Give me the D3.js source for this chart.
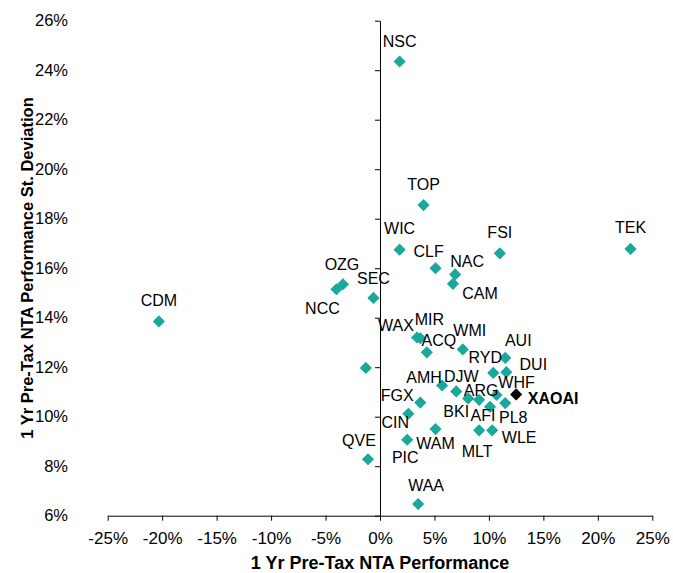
<html>
<head>
<title>NTA Performance vs St. Deviation</title>
<script type="text/javascript" src="https://cdn.jsdelivr.net/npm/d3@7"></script>
<style>
  * { margin: 0; padding: 0; }
  body { background: #fff; }
  text { font-family: "Liberation Sans", Arial, sans-serif; }
</style>
</head>
<body>
<div id="chart"></div>
<script type="text/javascript">
// 1 yr pre-tax NTA performance (%) and st. deviation (%)
var codes = ['NSC', 'TOP', 'WIC', 'CLF', 'NAC', 'CAM', 'FSI', 'OZG', 'NCC', 'SEC', 'CDM', 'TEK',
             'WAX', 'MIR', 'ACQ', 'WMI', '', 'AUI', 'RYD', 'DUI', 'AMH', 'DJW', 'BKI', 'ARG',
             'WHF', 'XAOAI', 'PL8', 'AFI', 'FGX', 'CIN', 'WAM', 'MLT', 'WLE', 'PIC', 'QVE', 'WAA'];
var performance = [1.8, 4.0, 1.8, 5.1, 6.9, 6.7, 11.0, -3.4, -4.0, -0.6, -20.3, 23.0,
                   3.4, 3.7, 4.3, 7.6, -1.3, 11.5, 10.4, 11.6, 5.7, 7.0, 8.1, 9.1,
                   10.7, 12.5, 11.5, 10.1, 3.7, 2.6, 5.1, 9.1, 10.3, 2.5, -1.1, 3.5];
var stdDev = [24.35, 18.55, 16.75, 16.0, 15.75, 15.37, 16.6, 15.35, 15.15, 14.8, 13.85, 16.78,
              13.2, 13.17, 12.6, 12.72, 11.97, 12.38, 11.77, 11.8, 11.26, 11.02, 10.74, 10.68,
              10.88, 10.9, 10.55, 10.4, 10.57, 10.12, 9.5, 9.45, 9.45, 9.07, 8.28, 6.47];
var benchmark = 'XAOAI';
var xTicks = [-25, -20, -15, -10, -5, 0, 5, 10, 15, 20, 25];
var yTicks = [6, 8, 10, 12, 14, 16, 18, 20, 22, 24, 26];

// label placement (pixel offset of label centre from the marker)
var labelOffset = {
  NSC: [0, -20], TOP: [0, -21], WIC: [0, -21], CLF: [-7, -17], NAC: [12, -13], CAM: [27, 10],
  FSI: [0, -21], OZG: [-1, -20], NCC: [-14, 19], SEC: [0, -20], CDM: [0, -21], TEK: [0, -21],
  WAX: [-21, -12], MIR: [9, -19], ACQ: [12, -12], WMI: [7, -19], AUI: [13, -17], RYD: [-8, -15],
  DUI: [27, -8], AMH: [-18, -8], DJW: [5, -15], BKI: [-12, 13], ARG: [2, -9], WHF: [20, -13],
  XAOAI: [37, 4], PL8: [8, 14], AFI: [-7, 9], FGX: [-23, -7], CIN: [-13, 9], WAM: [0, 14],
  MLT: [-2, 21], WLE: [27, 7], PIC: [-2, 18], QVE: [-9, -19], WAA: [8, -19]
};

var width = 673, height = 573;
var svg = d3.select('#chart').append('svg')
    .attr('width', width)
    .attr('height', height);

var x = d3.scaleLinear().domain([-25, 25]).range([107.7, 652.3]);
var y = d3.scaleLinear().domain([6, 26]).range([515.7, 20.7]);
var pct = function(d) { return d + '%'; };

// x axis along 6%
var xAxis = svg.append('g')
    .attr('transform', 'translate(0,' + y(6) + ')')
    .call(d3.axisBottom(x).tickValues(xTicks).tickFormat(pct).tickSize(5).tickSizeOuter(0).tickPadding(11));
xAxis.selectAll('.tick text').style('font-size', '17px');

// y axis crossing at 0%
var yAxis = svg.append('g')
    .attr('transform', 'translate(' + x(0) + ',0)')
    .call(d3.axisLeft(y).tickValues(yTicks).tickFormat('').tickSize(5).tickSizeOuter(0));

// y tick labels sit at the left edge of the plot
var yLabels = svg.append('g')
    .attr('transform', 'translate(68,0)')
    .call(d3.axisLeft(y).tickValues(yTicks).tickFormat(pct).tickSize(0).tickPadding(0));
yLabels.select('.domain').remove();
yLabels.selectAll('.tick text').style('font-size', '16.5px');

svg.selectAll('.domain, .tick line').attr('stroke', '#000').attr('stroke-width', 1);
svg.selectAll('.tick text').attr('fill', '#000')
    .style('font-family', '"Liberation Sans", Arial, sans-serif');

// axis titles
svg.append('text')
    .attr('x', x(0))
    .attr('y', 568.5)
    .attr('text-anchor', 'middle')
    .style('font-size', '18px')
    .style('font-weight', 'bold')
    .text('1 Yr Pre-Tax NTA Performance');

svg.append('text')
    .attr('transform', 'translate(33,' + 268 + ') rotate(-90)')
    .attr('text-anchor', 'middle')
    .style('font-size', '16.5px')
    .style('font-weight', 'bold')
    .text('1 Yr Pre-Tax NTA Performance St. Deviation');

var points = codes.map(function(c, i) {
  return {code: c, perf: performance[i], sd: stdDev[i]};
});

var diamond = d3.symbol().type(d3.symbolSquare).size(74);

svg.append('g').selectAll('path')
    .data(points)
  .enter().append('path')
    .attr('d', diamond)
    .attr('transform', function(d) {
      return 'translate(' + x(d.perf) + ',' + y(d.sd) + ') rotate(45)';
    })
    .attr('fill', function(d) { return d.code === benchmark ? '#000' : '#1aa79c'; });

svg.append('g').selectAll('text')
    .data(points.filter(function(d) { return d.code !== ''; }))
  .enter().append('text')
    .attr('x', function(d) { return x(d.perf) + labelOffset[d.code][0]; })
    .attr('y', function(d) { return y(d.sd) + labelOffset[d.code][1]; })
    .attr('dy', '0.35em')
    .attr('text-anchor', 'middle')
    .style('font-size', '16px')
    .style('font-weight', function(d) { return d.code === benchmark ? 'bold' : 'normal'; })
    .text(function(d) { return d.code; });
</script>
</body>
</html>
